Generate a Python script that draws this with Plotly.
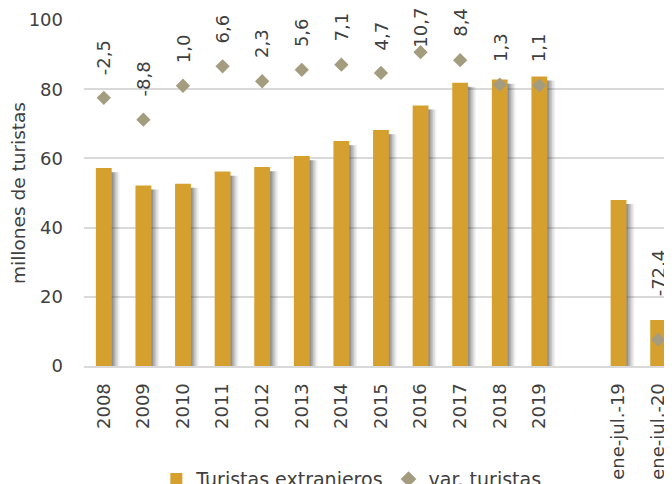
import plotly.graph_objects as go

categories = ["2008", "2009", "2010", "2011", "2012", "2013", "2014", "2015",
              "2016", "2017", "2018", "2019", " ", "ene-jul.-19", "ene-jul.-20"]
turistas = [57.2, 52.2, 52.7, 56.2, 57.5, 60.7, 65.0, 68.2, 75.3, 81.9, 82.8, 83.7,
            None, 48.0, 13.3]
var_turistas = [-2.5, -8.8, 1.0, 6.6, 2.3, 5.6, 7.1, 4.7, 10.7, 8.4, 1.3, 1.1,
                None, None, -72.4]
var_labels = ["-2,5", "-8,8", "1,0", "6,6", "2,3", "5,6", "7,1", "4,7", "10,7",
              "8,4", "1,3", "1,1", None, None, "-72,4"]
y_ticks = [0, 20, 40, 60, 80, 100]

FONT = "DejaVu Sans"
BAR = "#D6A02F"
DIAM = "#A39C7F"
TXT = "#404040"

# the page body adds an 8px offset; the figure is sized to fill the rest
W, H = 664, 476

fig = go.Figure()

# soft shadow layers behind the bars
for dx, op in [(0.20, 0.07), (0.16, 0.10), (0.12, 0.14), (0.08, 0.18), (0.04, 0.24)]:
    fig.add_trace(go.Bar(
        x=categories, y=[None if v is None else v - 1.2 for v in turistas],
        width=0.4, offset=-0.2 + dx,
        marker=dict(color=f"rgba(60,60,60,{op})", line=dict(width=0)),
        showlegend=False, hoverinfo="skip"))

fig.add_trace(go.Bar(
    x=categories, y=turistas, name="Turistas extranjeros",
    width=0.4, offset=-0.2,
    marker=dict(color=BAR, line=dict(width=0))))

fig.add_trace(go.Scatter(
    x=categories, y=var_turistas, name="var. turistas", yaxis="y2",
    mode="markers", marker=dict(symbol="diamond", size=11, color=DIAM)))

label_shift = {8: 2, 14: 41}
for i, (v, lab) in enumerate(zip(var_turistas, var_labels)):
    if v is None:
        continue
    fig.add_annotation(
        x=i, y=v, xref="x", yref="y2", text=lab, showarrow=False,
        textangle=-90, xanchor="center", yanchor="bottom",
        yshift=label_shift.get(i, 21),
        font=dict(family=FONT, size=18, color=TXT))

fig.update_layout(
    width=W, height=H,
    margin=dict(l=76, r=0, t=12, b=118, autoexpand=False),
    paper_bgcolor="white", plot_bgcolor="white",
    barmode="overlay",
    font=dict(family=FONT, size=18, color=TXT),
    showlegend=True,
    legend=dict(orientation="h", x=0.123, xanchor="left",
                yref="container", y=0.05, yanchor="top",
                font=dict(family=FONT, size=19, color=TXT),
                itemsizing="constant", traceorder="normal"),
    xaxis=dict(type="category", categoryorder="array", categoryarray=categories,
               range=[-0.5, 14.35], tickangle=-90, showgrid=False,
               showline=True, linecolor="#d9d9d9", linewidth=2,
               ticks="", ticklabelstandoff=8, automargin=False,
               tickfont=dict(family=FONT, size=18, color=TXT)),
    yaxis=dict(range=[0, 100], tickvals=y_ticks, showgrid=True,
               gridcolor="#d9d9d9", gridwidth=1.5, zeroline=False,
               ticks="", ticklabelstandoff=20, automargin=False,
               title=dict(text="millones de turistas", standoff=4,
                          font=dict(family=FONT, size=18.5, color=TXT)),
               tickfont=dict(family=FONT, size=18, color=TXT)),
    yaxis2=dict(range=[-80, 20], overlaying="y", side="right", visible=False,
                showgrid=False),
)

fig.write_html("out.html")
